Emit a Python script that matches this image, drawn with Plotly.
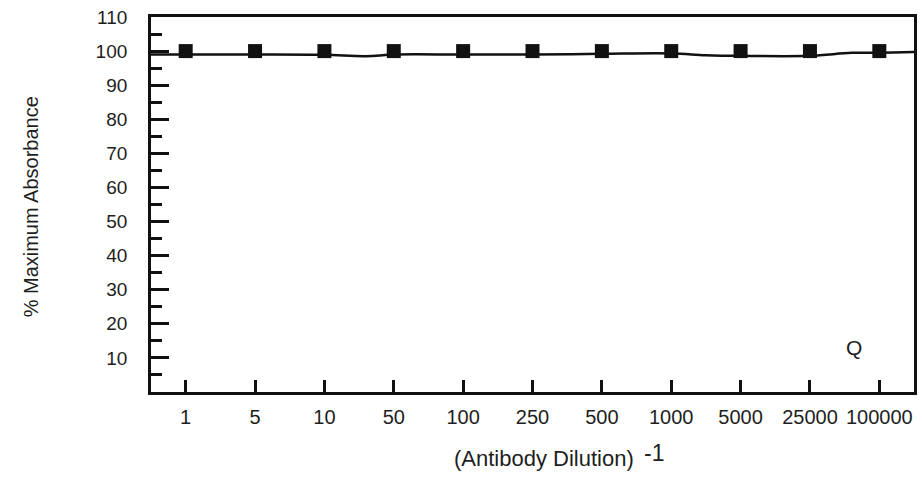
import plotly.graph_objects as go

dilutions = ["1", "5", "10", "50", "100", "250", "500", "1000", "5000", "25000", "100000"]
pct_max_abs = [100, 100, 100, 100, 100, 100, 100, 100, 100, 100, 100]

# fitted curve (position in category units, value)
fit_x = [-0.5, 0, 1, 2, 2.6, 3, 4, 5, 6, 7, 7.5, 8, 9, 9.6, 10, 10.5]
fit_y = [99.0, 99.0, 99.0, 98.9, 98.5, 99.0, 99.0, 99.0, 99.2, 99.3, 98.8, 98.6, 98.6, 99.5, 99.5, 99.7]

y_ticks = [10, 20, 30, 40, 50, 60, 70, 80, 90, 100, 110]

FONT = "Liberation Sans, Arial, sans-serif"
INK = "#1e1e1e"

fig = go.Figure()
fig.add_trace(go.Scatter(x=fit_x, y=fit_y, mode="lines",
                         line=dict(color="#111", width=2.5, shape="spline"),
                         hoverinfo="skip", showlegend=False))
fig.add_trace(go.Scatter(x=list(range(len(dilutions))), y=pct_max_abs, mode="markers",
                         marker=dict(symbol="square", size=14, color="#111",
                                     line=dict(width=0)),
                         showlegend=False))

fig.update_layout(
    width=922, height=482,
    margin=dict(l=151, r=5, t=17, b=90),
    paper_bgcolor="white", plot_bgcolor="white",
    font=dict(family=FONT, color=INK),
    xaxis=dict(range=[-0.5, 10.5], tickmode="array",
               tickvals=list(range(len(dilutions))), ticktext=dilutions,
               ticks="inside", ticklen=12, tickwidth=2.5, tickcolor="#111",
               showline=True, linewidth=2.8, linecolor="#111", mirror=True,
               showgrid=False, zeroline=False,
               tickfont=dict(size=20, family=FONT, color=INK),
               ticklabelstandoff=5),
    yaxis=dict(range=[0, 110], tickmode="array", tickvals=y_ticks,
               ticks="inside", ticklen=18, tickwidth=2.5, tickcolor="#111",
               minor=dict(tickmode="linear", tick0=0, dtick=5, ticks="inside",
                          ticklen=11, tickwidth=2.5, tickcolor="#111"),
               showline=True, linewidth=2.8, linecolor="#111", mirror=True,
               showgrid=False, zeroline=False,
               tickfont=dict(size=19, family=FONT, color=INK),
               ticklabelstandoff=17),
    annotations=[
        dict(text="% Maximum Absorbance", xref="paper", yref="paper",
             x=-0.174, y=0.493, textangle=-90, showarrow=False,
             font=dict(size=20, family=FONT, color=INK)),
        dict(text="(Antibody Dilution)", xref="paper", yref="paper",
             x=0.515, y=-0.176, showarrow=False, yanchor="middle",
             font=dict(size=22, family=FONT, color=INK)),
        dict(text="-1", xref="paper", yref="paper",
             x=0.659, y=-0.163, showarrow=False, yanchor="middle",
             font=dict(size=23, family=FONT, color=INK)),
        dict(text="Q", xref="x", yref="y", x=9.64, y=13.2, showarrow=False,
             font=dict(size=21, family=FONT, color=INK)),
    ],
)

fig.write_html("out.html")
